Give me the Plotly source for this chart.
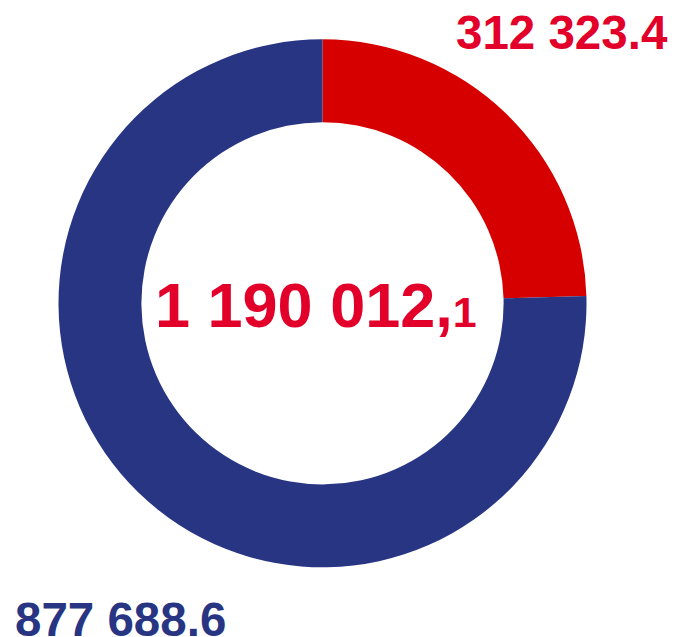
import plotly.graph_objects as go

labels = ["Segment A", "Segment B"]
# slice shares (%) as drawn in the reference ring
slice_shares = [24.56, 75.44]
value_texts = ["312 323.4", "877 688.6"]
colors = ["#D70000", "#283583"]
label_colors = ["#E2002A", "#283583"]
total_main = "1 190 012,"
total_decimal = "1"

W, H = 678, 637
OFF = 8  # page body margin offset
cx, cy, r = 322.5 - OFF, 303.3 - OFF, 264

fig = go.Figure(go.Pie(
    labels=labels,
    values=slice_shares,
    customdata=value_texts,
    hole=0.686,
    sort=False,
    direction="clockwise",
    rotation=0,
    marker=dict(colors=colors, line=dict(width=0)),
    textinfo="none",
    hovertemplate="%{label}: %{customdata}<extra></extra>",
    showlegend=False,
    domain=dict(x=[(cx - r) / W, (cx + r) / W],
                y=[(H - cy - r) / H, (H - cy + r) / H]),
))

font = "Liberation Sans, Arial, sans-serif"
fig.add_annotation(x=(670 - OFF) / W, y=1 - (32.5 - OFF) / H, xref="paper", yref="paper",
                   xanchor="right", yanchor="middle", showarrow=False,
                   text="<b>" + value_texts[0] + "</b>",
                   font=dict(family=font, size=47.5, color=label_colors[0]))
fig.add_annotation(x=(12.5 - OFF) / W, y=1 - (619 - OFF) / H, xref="paper", yref="paper",
                   xanchor="left", yanchor="middle", showarrow=False,
                   text="<b>" + value_texts[1] + "</b>",
                   font=dict(family=font, size=47.5, color=label_colors[1]))
fig.add_annotation(x=(316 - OFF) / W, y=1 - (305 - OFF) / H, xref="paper", yref="paper",
                   xanchor="center", yanchor="middle", showarrow=False,
                   text="<b>" + total_main + "<span style='font-size:43px'>" + total_decimal + "</span></b>",
                   font=dict(family=font, size=63, color=label_colors[0]))

fig.update_layout(width=W, height=H, margin=dict(l=0, r=0, t=0, b=0),
                  paper_bgcolor="white", plot_bgcolor="white")
fig.write_html("out.html")
